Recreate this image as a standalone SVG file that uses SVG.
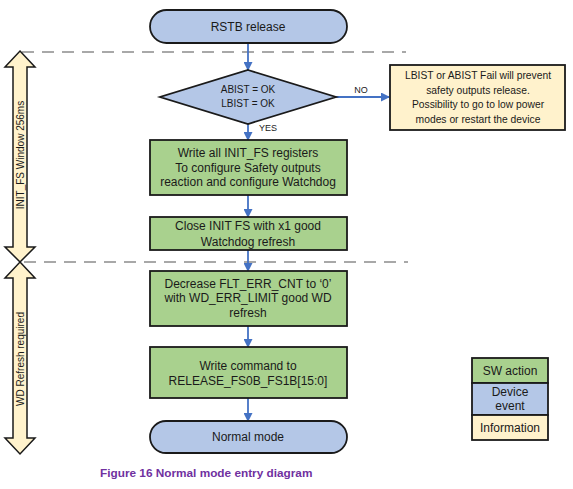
<svg xmlns="http://www.w3.org/2000/svg" width="573" height="489" viewBox="0 0 573 489">
<style>
.t{font-family:"Liberation Sans",Arial,sans-serif;font-size:12px;fill:#1a1a1a;text-anchor:middle}
.s{font-family:"Liberation Sans",Arial,sans-serif;font-size:10px;fill:#1a1a1a;text-anchor:middle}
.blue{fill:#B4C7E7;stroke:#1a1a1a;stroke-width:1.8}
.green{fill:#A9D18E;stroke:#1a1a1a;stroke-width:1.8}
.info{fill:#FFF2CC;stroke:#1a1a1a;stroke-width:1.8}
.dash{stroke:#8c8c8c;stroke-width:1.5;stroke-dasharray:12 8;fill:none}
.conn{stroke:#4472C4;stroke-width:1.8;fill:none;marker-end:url(#ah)}
.barrow{fill:#FFF2CC;stroke:#1a1a1a;stroke-width:1.5}
</style>
<defs>
<marker id="ah" markerWidth="9" markerHeight="9" refX="8" refY="4.5" orient="auto" markerUnits="userSpaceOnUse">
<path d="M0,0 L9,4.5 L0,9 Z" fill="#4472C4"/>
</marker>
</defs>
<rect width="573" height="489" fill="#ffffff"/>

<line class="dash" x1="22" y1="52" x2="406" y2="52"/>
<line class="dash" x1="24" y1="262" x2="408" y2="262"/>

<g id="arrow-initfs">
<path class="barrow" d="M20,51 L35,67 L27,67 L27,247 L35,247 L20,262 L5,247 L13,247 L13,67 L5,67 Z"/>
<text class="s" transform="translate(24,155) rotate(-90)">INIT_FS Window 256ms</text>
</g>
<g id="arrow-wd">
<path class="barrow" d="M20,262 L35,278 L27,278 L27,438 L35,438 L20,454 L5,438 L13,438 L13,278 L5,278 Z"/>
<text class="s" transform="translate(24,359) rotate(-90)">WD Refresh required</text>
</g>

<g id="connectors">
<line class="conn" x1="248" y1="43" x2="248" y2="70"/>
<line class="conn" x1="248" y1="124" x2="248" y2="140"/>
<line class="conn" x1="336" y1="97" x2="389" y2="97"/>
<line class="conn" x1="248" y1="195" x2="248" y2="217"/>
<line class="conn" x1="248" y1="250" x2="248" y2="271"/>
<line class="conn" x1="248" y1="326" x2="248" y2="347"/>
<line class="conn" x1="248" y1="398" x2="248" y2="421"/>
<text class="s" x="268" y="131" style="font-size:9px">YES</text>
<text class="s" x="361" y="93" style="font-size:9px">NO</text>
</g>

<g id="rstb">
<rect class="blue" x="150" y="10" width="197" height="33" rx="16.5"/>
<text class="t" x="248" y="31">RSTB release</text>
</g>

<g id="decision">
<path class="blue" d="M248,70 L336,97 L248,124 L160,97 Z"/>
<text class="s" x="248" y="93">ABIST = OK</text>
<text class="s" x="248" y="107">LBIST = OK</text>
</g>

<g id="info-fail">
<rect class="info" x="390" y="65" width="175" height="65"/>
<text class="s" x="478" y="79" style="font-size:10.3px">LBIST or ABIST Fail will prevent</text>
<text class="s" x="478" y="94" style="font-size:10.3px">safety outputs release.</text>
<text class="s" x="478" y="108" style="font-size:10.3px">Possibility to go to low power</text>
<text class="s" x="478" y="123" style="font-size:10.3px">modes or restart the device</text>
</g>

<g id="write-init">
<rect class="green" x="150" y="140" width="197" height="55"/>
<text class="t" x="248" y="157">Write all INIT_FS registers</text>
<text class="t" x="248" y="172">To configure Safety outputs</text>
<text class="t" x="248" y="186">reaction and configure Watchdog</text>
</g>

<g id="close-init">
<rect class="green" x="150" y="217" width="197" height="33"/>
<text class="t" x="248" y="230">Close INIT FS with x1 good</text>
<text class="t" x="248" y="246">Watchdog refresh</text>
</g>

<g id="decrease">
<rect class="green" x="150" y="271" width="197" height="55"/>
<text class="t" x="248" y="288">Decrease FLT_ERR_CNT to ‘0’</text>
<text class="t" x="248" y="302">with WD_ERR_LIMIT good WD</text>
<text class="t" x="248" y="317">refresh</text>
</g>

<g id="write-release">
<rect class="green" x="150" y="347" width="197" height="51"/>
<text class="t" x="248" y="370">Write command to</text>
<text class="t" x="248" y="385">RELEASE_FS0B_FS1B[15:0]</text>
</g>

<g id="normal">
<rect class="blue" x="150" y="421" width="197" height="32" rx="16"/>
<text class="t" x="248" y="441">Normal mode</text>
</g>

<g id="legend">
<rect class="green" x="472" y="358" width="76" height="25"/>
<rect class="blue" x="472" y="383" width="76" height="32"/>
<rect class="info" x="472" y="415" width="76" height="25"/>
<text class="t" x="510" y="375">SW action</text>
<text class="t" x="510" y="396">Device</text>
<text class="t" x="510" y="410">event</text>
<text class="t" x="510" y="432">Information</text>
</g>

<text x="100" y="477" style="font-family:'Liberation Sans',Arial,sans-serif;font-size:11.8px;font-weight:bold;fill:#7030A0">Figure 16 Normal mode entry diagram</text>
</svg>
